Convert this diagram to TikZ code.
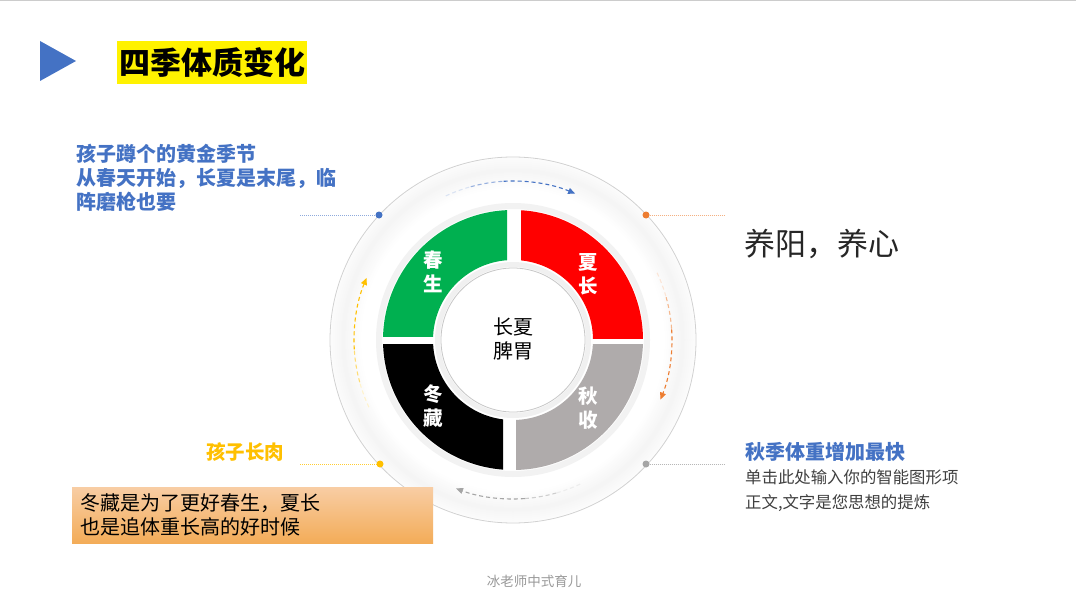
\documentclass[tikz,border=0pt]{standalone}
\usepackage{fontspec}
\setmainfont{Noto Sans CJK SC}
\usetikzlibrary{arrows.meta}
\definecolor{cblue}{HTML}{4472C4}
\definecolor{corange}{HTML}{ED7D31}
\definecolor{cyellow}{HTML}{FFC000}
\definecolor{cgraydot}{HTML}{A5A5A5}
\definecolor{cgreen}{HTML}{00B050}
\definecolor{cred}{HTML}{FF0000}
\definecolor{cgrayseg}{HTML}{AFABAB}
\definecolor{ctxt}{HTML}{262626}
\definecolor{csub}{HTML}{404040}
\definecolor{boxtop}{HTML}{F8CDA4}
\definecolor{boxbot}{HTML}{F3AC58}
\newcommand\myfadearc[3]{%
  \pgfmathsetmacro\myA{#2}%
  \pgfmathsetmacro\myB{#2+(#3-#2)*0.2}%
  \pgfmathsetmacro\myC{#2+(#3-#2)*0.45}%
  \draw[arcline,#1!20] (C) ++(\myA:159) arc[start angle=\myA,end angle=\myB,radius=159];
  \draw[arcline,#1!55] (C) ++(\myB:159) arc[start angle=\myB,end angle=\myC,radius=159];
  \draw[arcline,#1,-{Triangle[length=7pt,width=6pt]}] (C) ++(\myC:159) arc[start angle=\myC,end angle=#3,radius=159];}
\begin{document}
\begin{tikzpicture}[x=1pt,y=-1pt,
  arcline/.style={line width=1.1pt, dash pattern=on 4pt off 3pt},
  dotnode/.style={circle, inner sep=0pt, minimum size=7pt},
  leader/.style={line width=0.9pt, dash pattern=on 1pt off 1pt},
  seglabel/.style={text=white, align=center, font=\fontsize{19.5}{24}\selectfont\bfseries},
  bluehead/.style={text=cblue, align=left, font=\fontsize{20}{24}\selectfont\bfseries, inner sep=0pt}]
\useasboundingbox (0,0) rectangle (1076,607);
\fill[white] (0,0) rectangle (1076,607);
\coordinate (tl) at (0,0.6);
\coordinate (tr) at (1076,0.6);
\draw[black!20, line width=1pt] (tl) -- (tr);

% title
\fill[cblue] (40,41) -- (40,81) -- (76,61) -- cycle;
\node[fill=yellow, minimum width=190, minimum height=43, inner sep=0pt,
  font=\fontsize{31}{31}\selectfont\bfseries] (title) at (212,62.5) {四季体质变化};

% circle
\coordinate (C) at (513,340);
\foreach \i in {0,...,34}{%
  \pgfmathsetmacro\r{182-\i}%
  \pgfmathsetmacro\o{max(0,4-abs(\r-170)*0.22)}%
  \fill[black!\o] (C) circle[radius=\r];}
\fill[white] (C) circle[radius=148];
\draw[black!18, line width=0.8pt] (C) circle[radius=183];
\draw[black!5, line width=6pt] (C) circle[radius=134];

\begin{scope}
  \clip (370,200) rectangle (507,336);
  \fill[cgreen, even odd rule] (C) circle[radius=130] (C) circle[radius=80];
\end{scope}
\begin{scope}
  \clip (521,200) rectangle (660,338);
  \fill[cred, even odd rule] (C) circle[radius=130] (C) circle[radius=80];
\end{scope}
\begin{scope}
  \clip (516,344) rectangle (660,480);
  \fill[cgrayseg, even odd rule] (C) circle[radius=130] (C) circle[radius=80];
\end{scope}
\begin{scope}
  \clip (370,344) rectangle (503,480);
  \fill[black, even odd rule] (C) circle[radius=130] (C) circle[radius=80];
\end{scope}

\draw[black!6, line width=5pt] (C) circle[radius=75.5];
\fill[white] (C) circle[radius=72];
\draw[black!22, line width=0.8pt] (C) circle[radius=72];

\node[seglabel] (spring) at (433,272) {春\\生};
\node[seglabel] (summer) at (588,274) {夏\\长};
\node[seglabel] (winter) at (433,406) {冬\\藏};
\node[seglabel] (autumn) at (588,408) {秋\\收};
\node[align=center, font=\fontsize{20}{24}\selectfont, text=black] (center) at (513,339) {长夏\\脾胃};

% dashed arcs
\myfadearc{cblue}{-115}{-67}
\myfadearc{corange}{-25}{22}
\myfadearc{cgraydot}{65}{111}
\myfadearc{cyellow}{-205}{-157}

% dots and leaders
\node[dotnode, fill=cblue] (d1) at (379,215) {};
\node[dotnode, fill=corange] (d2) at (646,215) {};
\node[dotnode, fill=cyellow] (d3) at (380,464) {};
\node[dotnode, fill=cgraydot] (d4) at (646,464) {};
\coordinate (e1) at (300,215);
\coordinate (e2) at (725,215);
\coordinate (e3) at (300,464);
\coordinate (e4) at (725,464);
\draw[leader, cblue!60] (e1) -- (d1);
\draw[leader, corange!60] (d2) -- (e2);
\draw[leader, cyellow!80] (e3) -- (d3);
\draw[leader, cgraydot!80] (d4) -- (e4);

% texts
\node[bluehead, anchor=west] (t1) at (76,178) {孩子蹲个的黄金季节\\从春天开始，长夏是末尾，临\\阵磨枪也要};
\node[anchor=west, inner sep=0pt, text=ctxt, font=\fontsize{31}{31}\selectfont] (t2) at (744,244) {养阳，养心};
\node[anchor=west, inner sep=0pt, text=cyellow, font=\fontsize{19.5}{24}\selectfont\bfseries] (t3) at (206,452) {孩子长肉};
\node[bluehead, anchor=west] (t4) at (745,452) {秋季体重增加最快};
\node[anchor=west, inner sep=0pt, align=left, text=csub, font=\fontsize{16.4}{25}\selectfont] (t5) at (745,490.5) {单击此处输入你的智能图形项\\正文,文字是您思想的提炼};

\node[anchor=north west, minimum width=361, minimum height=56, inner xsep=8pt, inner ysep=0pt,
  text width=345, align=left, top color=boxtop, bottom color=boxbot, text=black,
  font=\fontsize{20}{24}\selectfont] (box) at (72,487) {冬藏是为了更好春生，夏长\\也是追体重长高的好时候};

\node[text=black!40, font=\fontsize{13.5}{16}\selectfont] (foot) at (534,581) {冰老师中式育儿};
\end{tikzpicture}
\end{document}
